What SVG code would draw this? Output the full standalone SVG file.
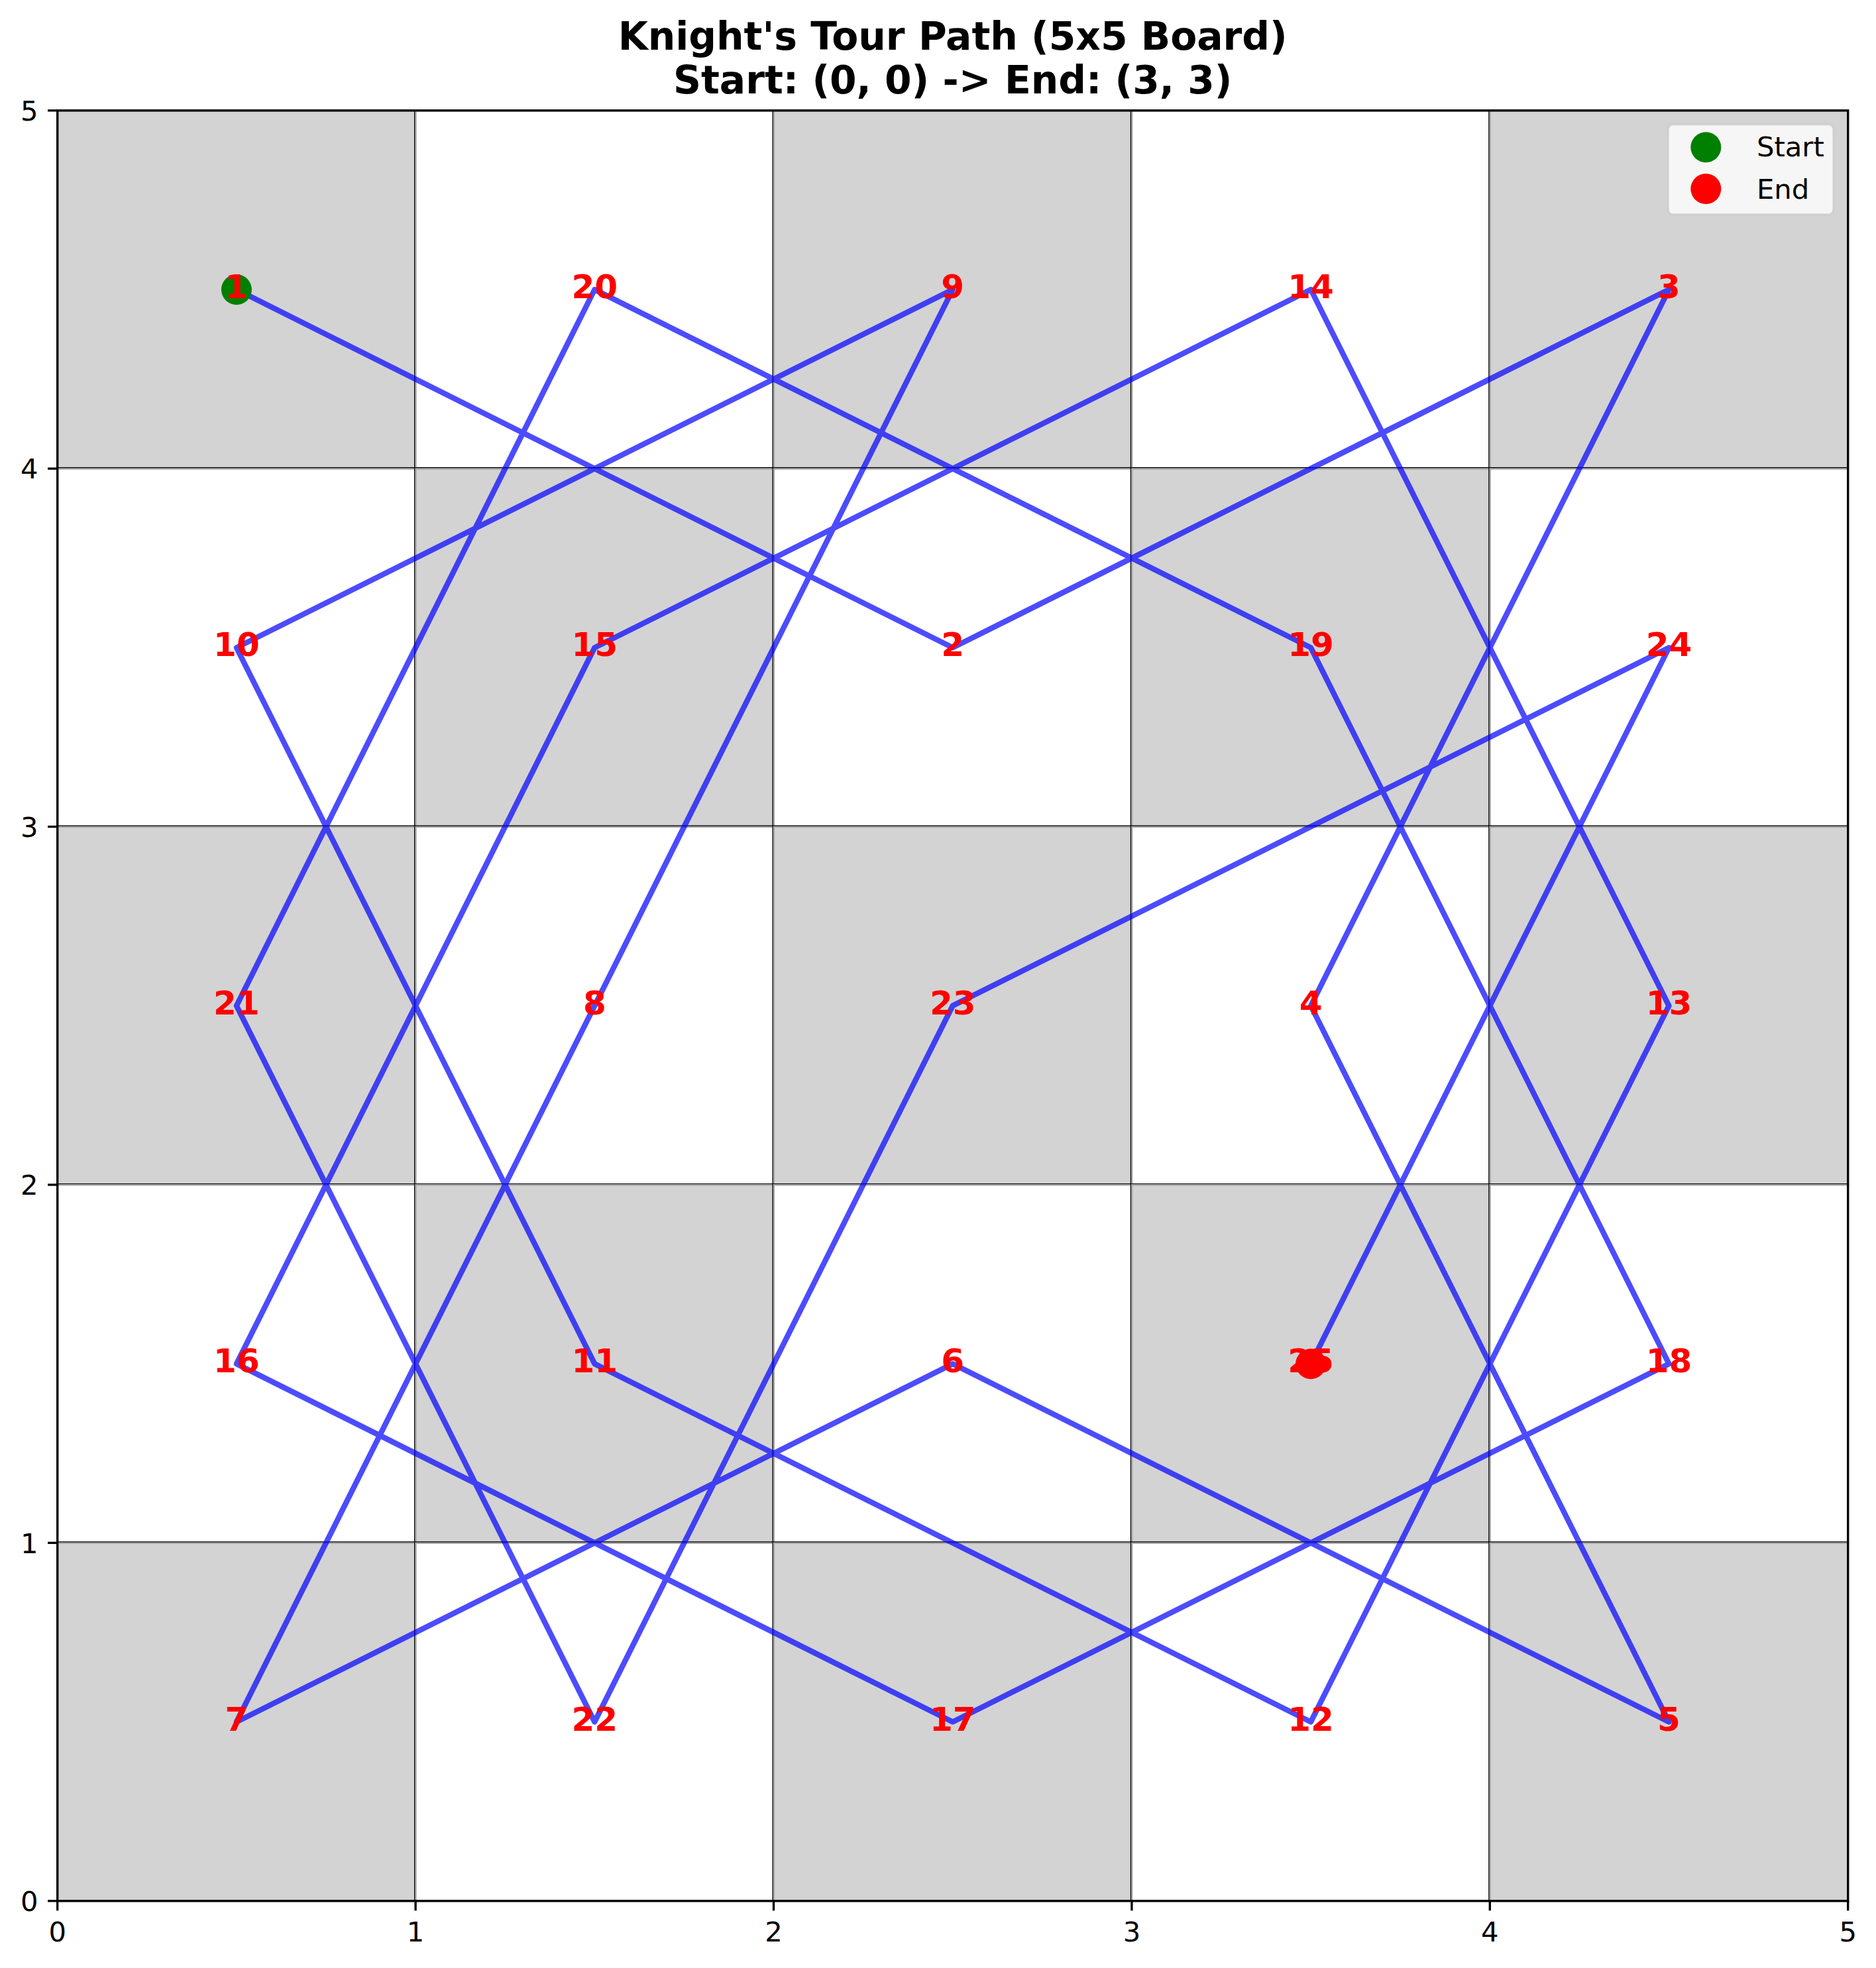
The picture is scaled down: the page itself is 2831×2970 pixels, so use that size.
<svg xmlns="http://www.w3.org/2000/svg" width="2831" height="2970" viewBox="0 0 2831 2970">
<style>
.t{font-family:"DejaVu Sans",sans-serif;}
.title{font-size:58.3px;font-weight:bold;fill:#000;text-anchor:middle;}
.tick{font-size:41.7px;fill:#000;}
.lbl{font-size:50px;font-weight:bold;fill:#ff0000;text-anchor:middle;}
.dark{fill:#d3d3d3;}
.light{fill:#ffffff;}
.cellg{stroke:#a6a6a6;stroke-width:3;}
.grid{stroke:#000;stroke-width:1.2;}
.tk{stroke:#000;stroke-width:3.33;}
</style>
<rect x="0" y="0" width="2831" height="2970" fill="#ffffff"/>
<g id="title">
<text class="t title" x="1437.7" y="74.5">Knight's Tour Path (5x5 Board)</text>
<text class="t title" x="1437.7" y="140.5">Start: (0, 0) -&gt; End: (3, 3)</text>
</g>
<g id="board">
<g class="cellg">
<rect class="dark" x="86.7" y="166.8" width="540.4" height="540.4"/>
<rect class="light" x="627.1" y="166.8" width="540.4" height="540.4"/>
<rect class="dark" x="1167.5" y="166.8" width="540.4" height="540.4"/>
<rect class="light" x="1707.9" y="166.8" width="540.4" height="540.4"/>
<rect class="dark" x="2248.3" y="166.8" width="540.4" height="540.4"/>
<rect class="light" x="86.7" y="707.2" width="540.4" height="540.4"/>
<rect class="dark" x="627.1" y="707.2" width="540.4" height="540.4"/>
<rect class="light" x="1167.5" y="707.2" width="540.4" height="540.4"/>
<rect class="dark" x="1707.9" y="707.2" width="540.4" height="540.4"/>
<rect class="light" x="2248.3" y="707.2" width="540.4" height="540.4"/>
<rect class="dark" x="86.7" y="1247.6" width="540.4" height="540.4"/>
<rect class="light" x="627.1" y="1247.6" width="540.4" height="540.4"/>
<rect class="dark" x="1167.5" y="1247.6" width="540.4" height="540.4"/>
<rect class="light" x="1707.9" y="1247.6" width="540.4" height="540.4"/>
<rect class="dark" x="2248.3" y="1247.6" width="540.4" height="540.4"/>
<rect class="light" x="86.7" y="1788.0" width="540.4" height="540.4"/>
<rect class="dark" x="627.1" y="1788.0" width="540.4" height="540.4"/>
<rect class="light" x="1167.5" y="1788.0" width="540.4" height="540.4"/>
<rect class="dark" x="1707.9" y="1788.0" width="540.4" height="540.4"/>
<rect class="light" x="2248.3" y="1788.0" width="540.4" height="540.4"/>
<rect class="dark" x="86.7" y="2328.4" width="540.4" height="540.4"/>
<rect class="light" x="627.1" y="2328.4" width="540.4" height="540.4"/>
<rect class="dark" x="1167.5" y="2328.4" width="540.4" height="540.4"/>
<rect class="light" x="1707.9" y="2328.4" width="540.4" height="540.4"/>
<rect class="dark" x="2248.3" y="2328.4" width="540.4" height="540.4"/>
</g>
<g class="grid">
<line x1="625.6" y1="166.8" x2="625.6" y2="2868.8"/>
<line x1="1166.0" y1="166.8" x2="1166.0" y2="2868.8"/>
<line x1="1706.4" y1="166.8" x2="1706.4" y2="2868.8"/>
<line x1="2246.8" y1="166.8" x2="2246.8" y2="2868.8"/>
<line x1="86.7" y1="705.7" x2="2788.7" y2="705.7"/>
<line x1="86.7" y1="1246.1" x2="2788.7" y2="1246.1"/>
<line x1="86.7" y1="1786.5" x2="2788.7" y2="1786.5"/>
<line x1="86.7" y1="2326.9" x2="2788.7" y2="2326.9"/>
</g>
</g>
<g id="connectors">
<polyline fill="none" stroke="#0000ff" stroke-opacity="0.7" stroke-width="8.3" stroke-linejoin="round" stroke-linecap="square" points="356.9,437.0 1437.7,977.4 2518.5,437.0 1978.1,1517.8 2518.5,2598.6 1437.7,2058.2 356.9,2598.6 897.3,1517.8 1437.7,437.0 356.9,977.4 897.3,2058.2 1978.1,2598.6 2518.5,1517.8 1978.1,437.0 897.3,977.4 356.9,2058.2 1437.7,2598.6 2518.5,2058.2 1978.1,977.4 897.3,437.0 356.9,1517.8 897.3,2598.6 1437.7,1517.8 2518.5,977.4 1978.1,2058.2"/>
</g>
<g id="markers">
<circle id="start-marker" cx="356.9" cy="437.0" r="23" fill="#008000"/>
<circle id="end-marker" cx="1978.1" cy="2058.2" r="23" fill="#ff0000"/>
</g>
<g id="labels" class="t">
<text class="lbl" x="356.9" y="450">1</text>
<text class="lbl" x="1437.7" y="990.4">2</text>
<text class="lbl" x="2518.5" y="450">3</text>
<text class="lbl" x="1978.1" y="1530.8">4</text>
<text class="lbl" x="2518.5" y="2611.6">5</text>
<text class="lbl" x="1437.7" y="2071.2">6</text>
<text class="lbl" x="356.9" y="2611.6">7</text>
<text class="lbl" x="897.3" y="1530.8">8</text>
<text class="lbl" x="1437.7" y="450">9</text>
<text class="lbl" x="356.9" y="990.4">10</text>
<text class="lbl" x="897.3" y="2071.2">11</text>
<text class="lbl" x="1978.1" y="2611.6">12</text>
<text class="lbl" x="2518.5" y="1530.8">13</text>
<text class="lbl" x="1978.1" y="450">14</text>
<text class="lbl" x="897.3" y="990.4">15</text>
<text class="lbl" x="356.9" y="2071.2">16</text>
<text class="lbl" x="1437.7" y="2611.6">17</text>
<text class="lbl" x="2518.5" y="2071.2">18</text>
<text class="lbl" x="1978.1" y="990.4">19</text>
<text class="lbl" x="897.3" y="450">20</text>
<text class="lbl" x="356.9" y="1530.8">21</text>
<text class="lbl" x="897.3" y="2611.6">22</text>
<text class="lbl" x="1437.7" y="1530.8">23</text>
<text class="lbl" x="2518.5" y="990.4">24</text>
<text class="lbl" x="1978.1" y="2071.2">25</text>
</g>
<g id="axes">
<rect x="86.7" y="166.8" width="2702" height="2702" fill="none" stroke="#000" stroke-width="3.33" stroke-linejoin="miter"/>
<g class="tk">
<line x1="86.7" y1="2868.8" x2="86.7" y2="2883.4"/>
<line x1="627.1" y1="2868.8" x2="627.1" y2="2883.4"/>
<line x1="1167.5" y1="2868.8" x2="1167.5" y2="2883.4"/>
<line x1="1707.9" y1="2868.8" x2="1707.9" y2="2883.4"/>
<line x1="2248.3" y1="2868.8" x2="2248.3" y2="2883.4"/>
<line x1="2788.7" y1="2868.8" x2="2788.7" y2="2883.4"/>
<line x1="72.1" y1="2868.8" x2="86.7" y2="2868.8"/>
<line x1="72.1" y1="2328.4" x2="86.7" y2="2328.4"/>
<line x1="72.1" y1="1788.0" x2="86.7" y2="1788.0"/>
<line x1="72.1" y1="1247.6" x2="86.7" y2="1247.6"/>
<line x1="72.1" y1="707.2" x2="86.7" y2="707.2"/>
<line x1="72.1" y1="166.8" x2="86.7" y2="166.8"/>
</g>
<g class="t tick" text-anchor="middle">
<text x="86.7" y="2930">0</text>
<text x="627.1" y="2930">1</text>
<text x="1167.5" y="2930">2</text>
<text x="1707.9" y="2930">3</text>
<text x="2248.3" y="2930">4</text>
<text x="2788.7" y="2930">5</text>
</g>
<g class="t tick" text-anchor="end">
<text x="57.5" y="2884">0</text>
<text x="57.5" y="2343.6">1</text>
<text x="57.5" y="1803.2">2</text>
<text x="57.5" y="1262.8">3</text>
<text x="57.5" y="722.4">4</text>
<text x="57.5" y="182">5</text>
</g>
</g>
<g id="legend">
<rect x="2517" y="187.5" width="250" height="136.5" rx="8" ry="8" fill="#ffffff" fill-opacity="0.8" stroke="#cccccc" stroke-opacity="0.8" stroke-width="3.3"/>
<circle cx="2574.3" cy="222.3" r="23" fill="#008000"/>
<circle cx="2574.3" cy="285" r="23" fill="#ff0000"/>
<text class="t tick" x="2651" y="236">Start</text>
<text class="t tick" x="2651" y="300">End</text>
</g>
</svg>
